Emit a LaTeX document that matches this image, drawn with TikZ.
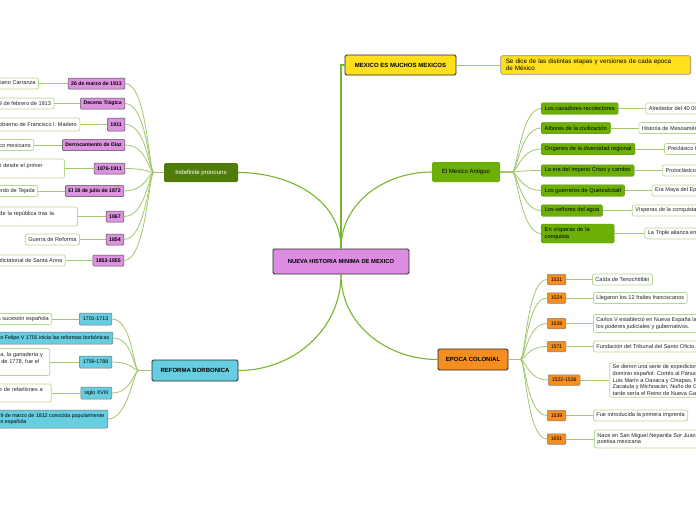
\documentclass[tikz,border=0pt]{standalone}
\usepackage{fontspec}
\setmainfont{Liberation Sans}
\usetikzlibrary{positioning}

\definecolor{rootpink}{HTML}{DC8DE2}
\definecolor{datepink}{HTML}{DD92DF}
\definecolor{mexyellow}{HTML}{FFE01B}
\definecolor{darkolive}{HTML}{4F7C0B}
\definecolor{antgreen}{HTML}{6DB005}
\definecolor{reformblue}{HTML}{67CDE0}
\definecolor{colorange}{HTML}{F68D1F}
\definecolor{leafline}{HTML}{B7D78C}
\definecolor{linkgreen}{HTML}{7AB52E}
\definecolor{twiggreen}{HTML}{A2C76C}

\begin{document}
\begin{tikzpicture}[
    x=1pt, y=1pt,
    central/.style={rectangle, draw=black!85, line width=0.9pt, fill=rootpink, rounded corners=1.5pt, minimum width=136pt, minimum height=25pt, font=\fontsize{5.8}{7}\selectfont\bfseries},
    topic/.style={rectangle, draw=black!85, line width=0.9pt, rounded corners=1.5pt, minimum height=20pt, font=\fontsize{6}{7}\selectfont\bfseries},
    greentopic/.style={rectangle, rounded corners=1.5pt, minimum height=19pt, font=\fontsize{6}{7}\selectfont},
    note/.style={rectangle, draw=black!45, line width=0.6pt, fill=mexyellow, rounded corners=2pt, align=left, inner xsep=5pt, text width=180pt, font=\fontsize{6.3}{7.3}\selectfont},
    pinkdate/.style={rectangle, draw=black!70, line width=0.5pt, fill=datepink, rounded corners=1pt, minimum height=11pt, inner xsep=3pt, inner ysep=1pt, font=\fontsize{5.2}{6}\selectfont\bfseries},
    bluedate/.style={rectangle, draw=black!55, line width=0.5pt, fill=reformblue, rounded corners=1pt, minimum height=12pt, inner xsep=3.5pt, inner ysep=1pt, align=left, font=\fontsize{5.3}{6.5}\selectfont},
    greenitem/.style={rectangle, draw=antgreen!80!black, line width=0.4pt, fill=antgreen, rounded corners=1.5pt, minimum height=11.5pt, inner xsep=3.5pt, inner ysep=1pt, align=left, font=\fontsize{5.7}{6.8}\selectfont},
    orangedate/.style={rectangle, draw=black!50, line width=0.5pt, fill=colorange, rounded corners=1pt, minimum height=10.5pt, inner xsep=3.5pt, inner ysep=1pt, font=\fontsize{5.2}{6}\selectfont},
    leaf/.style={rectangle, draw=leafline, line width=0.7pt, fill=white, rounded corners=2pt, minimum height=11pt, inner xsep=3pt, inner ysep=1.5pt, align=left, text=black!85, font=\fontsize{5.6}{6.8}\selectfont},
    mainlink/.style={draw=linkgreen, line width=1.1pt},
    twig/.style={draw=twiggreen, line width=0.8pt}
]
\fill[white] (0,0) rectangle (696,-520);
\useasboundingbox (0,0) rectangle (696,-520);

% Central and main topics
\node[central] (nueva) at (341,-261.5) {NUEVA HISTORIA MINIMA DE MEXICO};
\node[topic, fill=mexyellow, minimum width=111pt] (mexicos) at (400.5,-65) {MEXICO ES MUCHOS MEXICOS};
\node[note, right=44pt of mexicos] (sedice) {Se dice de las distintas etapas y versiones de cada epoca\\de México};
\node[greentopic, fill=darkolive, text=white, minimum width=74pt] (pronouns) at (201,-172.5) {Indefinite pronouns};
\node[greentopic, fill=antgreen, minimum width=68pt, minimum height=20pt] (antiguo) at (466,-172) {El Mexico Antiguo};
\node[topic, fill=reformblue, minimum width=86pt, minimum height=21pt] (reforma) at (195,-370.5) {REFORMA BORBONICA};
\node[topic, fill=colorange, minimum width=70pt, minimum height=21pt] (colonial) at (473,-359.5) {EPOCA COLONIAL};

% Indefinite pronouns: dates
\node[pinkdate, anchor=east] (d1913) at (125,-83.5) {26 de marzo de 1913};
\node[pinkdate, anchor=east] (dtragica) at (125,-103.5) {Decena Trágica};
\node[pinkdate, anchor=east, minimum height=13pt] (d1911) at (125,-124.5) {1911};
\node[pinkdate, anchor=east] (ddiaz) at (125,-145) {Derrocamiento de Díaz};
\node[pinkdate, anchor=east] (d1876) at (125,-168.5) {1876-1911};
\node[pinkdate, anchor=east] (d1872) at (124,-191) {El 28 de julio de 1872};
\node[pinkdate, anchor=east] (d1867) at (124,-216.5) {1867};
\node[pinkdate, anchor=east] (d1854) at (124,-239.5) {1854};
\node[pinkdate, anchor=east] (d1853) at (124,-260.5) {1853-1855};

% Indefinite pronouns: notes
\node[leaf, left=29pt of d1913] (l1913) {Plan de Guadalupe de Venustiano Carranza};
\node[leaf, left=26pt of dtragica] (ltragica) {Del 9 al 19 de febrero de 1913};
\node[leaf, left=27pt of d1911, minimum height=13pt] (l1911) {Gobierno de Francisco I. Madero};
\node[leaf, left=28pt of ddiaz] (ldiaz) {Inicio del conflicto bélico mexicano};
\node[leaf, left=29pt of d1876, text width=150pt, minimum height=19pt] (l1876) {Gobierno de Porfirio Díaz que inició desde el primer\\mandato};
\node[leaf, left=27pt of d1872] (l1872) {Sebastián Lerdo de Tejada};
\node[leaf, left=28pt of d1867, text width=156pt, minimum height=19pt] (l1867) {Benito Juárez retoma el mando de la república tras la\\intervención};
\node[leaf, left=26pt of d1854] (l1854) {Guerra de Reforma};
\node[leaf, left=27pt of d1853] (l1853) {Periodo dictatorial de Santa Anna};

% Reforma borbonica
\node[bluedate, anchor=east] (r1701) at (112,-319) {1701-1713};
\node[bluedate, anchor=east] (rfelipe) at (113,-338) {Con el rey don Felipe V 1701 inicia las reformas borbónicas};
\node[bluedate, anchor=east] (r1759) at (112,-362) {1759-1788};
\node[bluedate, anchor=east] (rsiglo) at (112,-393) {siglo XVIII};
\node[bluedate, anchor=east, minimum height=18pt] (rcadiz) at (108,-419) {La Constitución Política de la Monarquía dada el 19 de marzo de 1812 conocida popularmente\\como La Pepa, que fue la primera gran constitución española};
\node[leaf, left=27pt of r1701] (l1701) {Guerra de la sucesión española};
\node[leaf, left=29pt of r1759, text width=114pt, minimum height=27pt] (l1759) {Carlos III impulsó la minería, la ganadería y\\el comercio; el reglamento de 1778, fue el\\más importante};
\node[leaf, left=29pt of rsiglo, text width=110pt, minimum height=18pt] (lsiglo) {Se presentaron una serie de rebeliones a\\lo largo del siglo};

% El Mexico Antiguo
\node[greenitem, anchor=west] (cazadores) at (541,-108.5) {Los cazadores-recolectores};
\node[greenitem, anchor=west] (albores) at (541,-128) {Albores de la civilización};
\node[greenitem, anchor=west] (origenes) at (541,-149) {Orígenes de la diversidad regional};
\node[greenitem, anchor=west] (imperio) at (541,-170.5) {La era del imperio Crisis y cambio};
\node[greenitem, anchor=west] (guerreros) at (541,-190.5) {Los guerreros de Quetzalcóatl};
\node[greenitem, anchor=west] (senores) at (541,-210.5) {Los señores del agua};
\node[greenitem, anchor=west, text width=66pt, minimum height=19pt] (visperas) at (541,-233.5) {En vísperas de la\\conquista};
\node[leaf, right=27pt of cazadores] (lcazadores) {Alrededor del 40 000 a.C.};
\node[leaf, right=28pt of albores] (lalbores) {Historia de Mesoamérica};
\node[leaf, right=29pt of origenes] (lorigenes) {Preclásico temprano};
\node[leaf, right=28pt of imperio] (limperio) {Protoclásico};
\node[leaf, right=27pt of guerreros] (lguerreros) {Era Maya del Epiclásico};
\node[leaf, right=29pt of senores] (lsenores) {Vísperas de la conquista};
\node[leaf, right=30pt of visperas] (lvisperas) {La Triple alianza en Mesoamérica};

% Epoca colonial
\node[orangedate, anchor=west] (c1521) at (547,-279.5) {1521};
\node[orangedate, anchor=west] (c1524) at (547,-298) {1524};
\node[orangedate, anchor=west] (c1528) at (547,-323.5) {1528};
\node[orangedate, anchor=west] (c1571) at (547,-346.5) {1571};
\node[orangedate, anchor=west] (c1522) at (548,-380) {1522-1536};
\node[orangedate, anchor=west] (c1539) at (547,-415.5) {1539};
\node[orangedate, anchor=west] (c1651) at (547,-439) {1651};
\node[leaf, right=26pt of c1521] (l1521) {Caída de Tenochtitlán};
\node[leaf, right=27pt of c1524] (l1524) {Llegaron los 12 frailes franciscanos};
\node[leaf, right=27pt of c1528, minimum height=18pt] (l1528) {Carlos V estableció en Nueva España la Audiencia, que asumía\\los poderes judiciales y gubernativos.};
\node[leaf, right=27pt of c1571] (l1571) {Fundación del Tribunal del Santo Oficio.};
\node[leaf, right=29pt of c1522] (l1522) {Se dieron una serie de expediciones para extender el\\dominio español: Cortés al Pánuco, Gonzalo de Sandoval y\\Luis Marín a Oaxaca y Chiapas, Pedro de Alvarado a\\Zacatula y Michoacán, Nuño de Guzmán a lo que más\\tarde sería el Reino de Nueva Galicia.};
\node[leaf, right=27pt of c1539] (l1539) {Fue introducida la primera imprenta};
\node[leaf, right=28pt of c1651, minimum height=18pt] (l1651) {Nace en San Miguel Nepantla Sor Juana Inés de la Cruz,\\poetisa mexicana};

% Connections from the centre
\draw[mainlink] (nueva.north) |- (mexicos.west);
\draw[mainlink] (nueva.north) to[out=90, in=0] (pronouns.east);
\draw[mainlink] (nueva.north) to[out=90, in=180] (antiguo.west);
\draw[mainlink] (nueva.south) to[out=-90, in=0] (reforma.east);
\draw[mainlink] (nueva.south) to[out=-90, in=180] (colonial.west);
\draw[twig] (mexicos.east) -- (sedice.west);

% Connections, Indefinite pronouns
\draw[twig] (pronouns.west) -- ++(-10,0) to[out=180, in=0, out distance=5pt, in distance=22pt] (d1913.east);
\draw[twig] (pronouns.west) -- ++(-10,0) to[out=180, in=0, out distance=5pt, in distance=22pt] (dtragica.east);
\draw[twig] (pronouns.west) -- ++(-10,0) to[out=180, in=0, out distance=5pt, in distance=22pt] (d1911.east);
\draw[twig] (pronouns.west) -- ++(-10,0) to[out=180, in=0, out distance=5pt, in distance=22pt] (ddiaz.east);
\draw[twig] (pronouns.west) -- ++(-10,0) to[out=180, in=0, out distance=5pt, in distance=22pt] (d1876.east);
\draw[twig] (pronouns.west) -- ++(-10,0) to[out=180, in=0, out distance=5pt, in distance=22pt] (d1872.east);
\draw[twig] (pronouns.west) -- ++(-10,0) to[out=180, in=0, out distance=5pt, in distance=22pt] (d1867.east);
\draw[twig] (pronouns.west) -- ++(-10,0) to[out=180, in=0, out distance=5pt, in distance=22pt] (d1854.east);
\draw[twig] (pronouns.west) -- ++(-10,0) to[out=180, in=0, out distance=5pt, in distance=22pt] (d1853.east);
\draw[twig] (d1913) -- (l1913);
\draw[twig] (dtragica) -- (ltragica);
\draw[twig] (d1911) -- (l1911);
\draw[twig] (ddiaz) -- (ldiaz);
\draw[twig] (d1876) -- (l1876);
\draw[twig] (d1872) -- (l1872);
\draw[twig] (d1867) -- (l1867);
\draw[twig] (d1854) -- (l1854);
\draw[twig] (d1853) -- (l1853);

% Connections, Reforma borbonica
\draw[twig] (reforma.west) -- ++(-13,0) to[out=180, in=0, out distance=5pt, in distance=20pt] (r1701.east);
\draw[twig] (reforma.west) -- ++(-13,0) to[out=180, in=0, out distance=5pt, in distance=20pt] (rfelipe.east);
\draw[twig] (reforma.west) -- ++(-13,0) to[out=180, in=0, out distance=5pt, in distance=20pt] (r1759.east);
\draw[twig] (reforma.west) -- ++(-13,0) to[out=180, in=0, out distance=5pt, in distance=20pt] (rsiglo.east);
\draw[twig] (reforma.west) -- ++(-13,0) to[out=180, in=0, out distance=5pt, in distance=20pt] (rcadiz.east);
\draw[twig] (r1701) -- (l1701);
\draw[twig] (r1759) -- (l1759);
\draw[twig] (rsiglo) -- (lsiglo);

% Connections, El Mexico Antiguo
\draw[twig] (antiguo.east) -- ++(12,0) to[out=0, in=180, out distance=5pt, in distance=20pt] (cazadores.west);
\draw[twig] (antiguo.east) -- ++(12,0) to[out=0, in=180, out distance=5pt, in distance=20pt] (albores.west);
\draw[twig] (antiguo.east) -- ++(12,0) to[out=0, in=180, out distance=5pt, in distance=20pt] (origenes.west);
\draw[twig] (antiguo.east) -- ++(12,0) to[out=0, in=180, out distance=5pt, in distance=20pt] (imperio.west);
\draw[twig] (antiguo.east) -- ++(12,0) to[out=0, in=180, out distance=5pt, in distance=20pt] (guerreros.west);
\draw[twig] (antiguo.east) -- ++(12,0) to[out=0, in=180, out distance=5pt, in distance=20pt] (senores.west);
\draw[twig] (antiguo.east) -- ++(12,0) to[out=0, in=180, out distance=5pt, in distance=20pt] (visperas.west);
\draw[twig] (cazadores) -- (lcazadores);
\draw[twig] (albores) -- (lalbores);
\draw[twig] (origenes) -- (lorigenes);
\draw[twig] (imperio) -- (limperio);
\draw[twig] (guerreros) -- (lguerreros);
\draw[twig] (senores) -- (lsenores);
\draw[twig] (visperas) -- (lvisperas);

% Connections, Epoca colonial
\draw[twig] (colonial.east) -- ++(12,0) to[out=0, in=180, out distance=5pt, in distance=20pt] (c1521.west);
\draw[twig] (colonial.east) -- ++(12,0) to[out=0, in=180, out distance=5pt, in distance=20pt] (c1524.west);
\draw[twig] (colonial.east) -- ++(12,0) to[out=0, in=180, out distance=5pt, in distance=20pt] (c1528.west);
\draw[twig] (colonial.east) -- ++(12,0) to[out=0, in=180, out distance=5pt, in distance=20pt] (c1571.west);
\draw[twig] (colonial.east) -- ++(12,0) to[out=0, in=180, out distance=5pt, in distance=20pt] (c1522.west);
\draw[twig] (colonial.east) -- ++(12,0) to[out=0, in=180, out distance=5pt, in distance=20pt] (c1539.west);
\draw[twig] (colonial.east) -- ++(12,0) to[out=0, in=180, out distance=5pt, in distance=20pt] (c1651.west);
\draw[twig] (c1521) -- (l1521);
\draw[twig] (c1524) -- (l1524);
\draw[twig] (c1528) -- (l1528);
\draw[twig] (c1571) -- (l1571);
\draw[twig] (c1522) -- (l1522);
\draw[twig] (c1539) -- (l1539);
\draw[twig] (c1651) -- (l1651);

\end{tikzpicture}
\end{document}
